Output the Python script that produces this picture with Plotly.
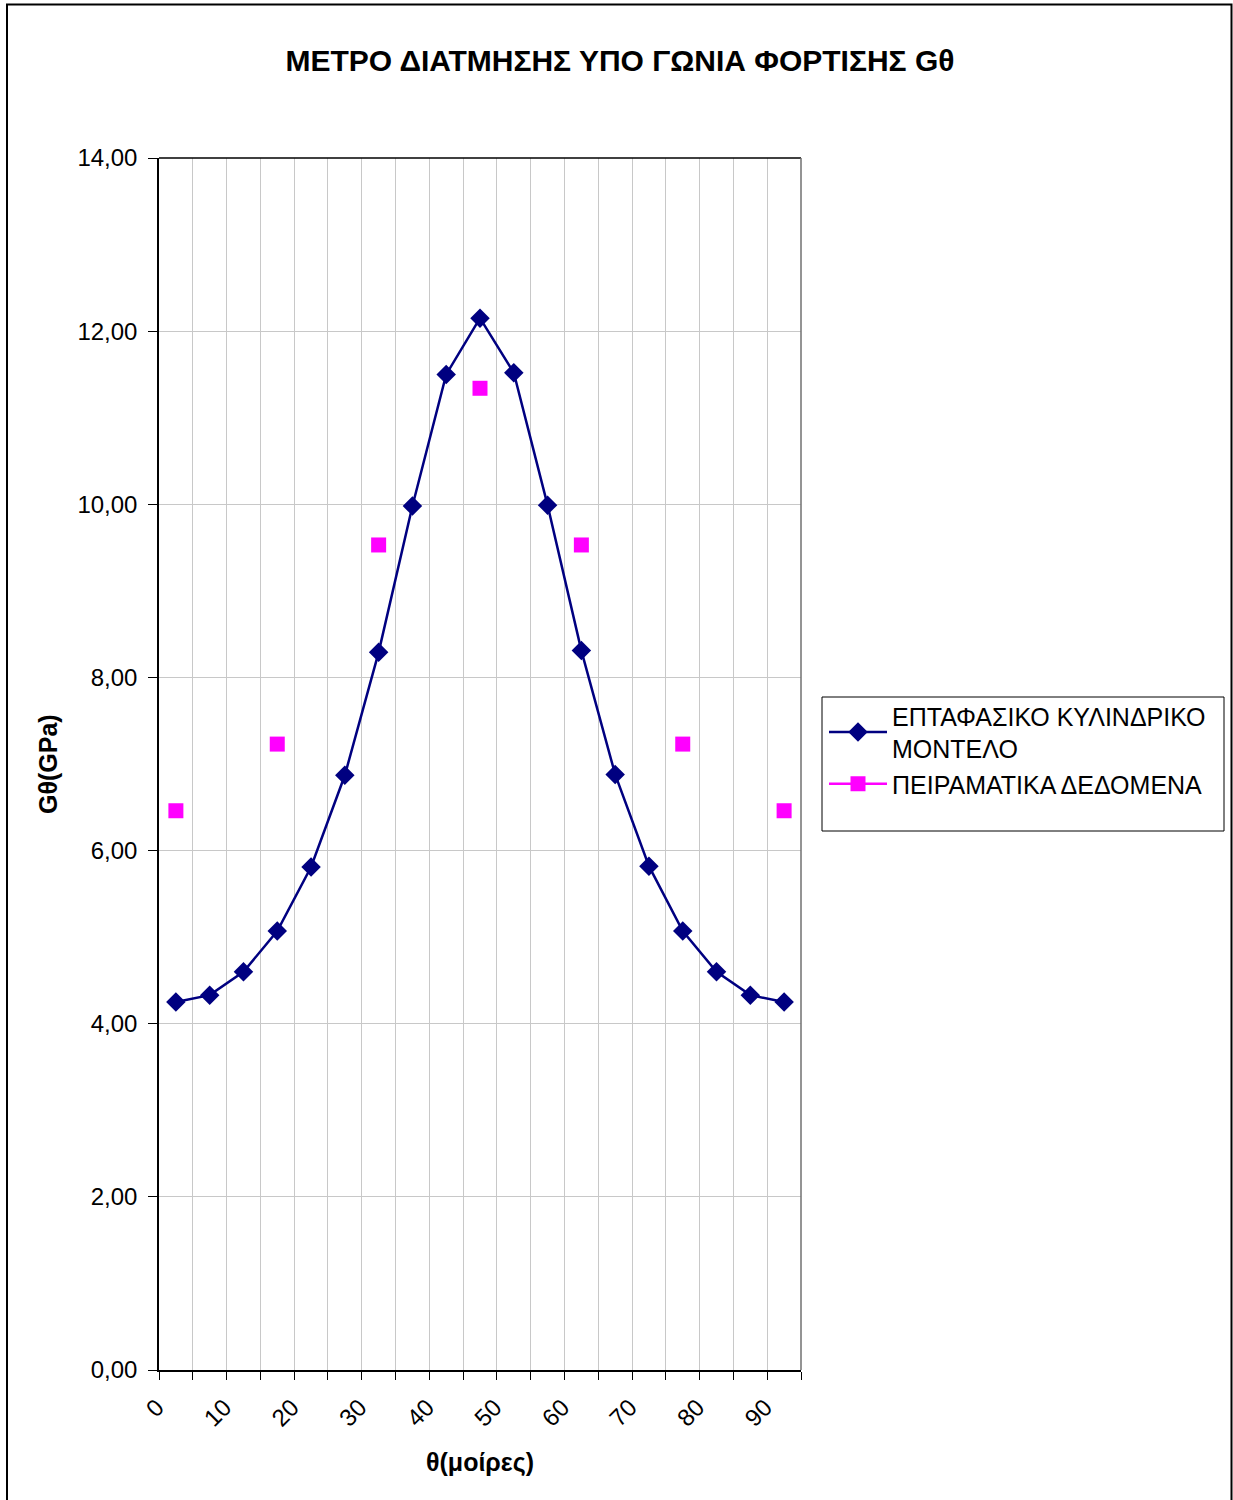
import plotly.graph_objects as go

# Loading angle θ (degrees) and shear modulus Gθ (GPa)
angles = [0, 5, 10, 15, 20, 25, 30, 35, 40, 45, 50, 55, 60, 65, 70, 75, 80, 85, 90]
model_G = [4.25, 4.33, 4.60, 5.07, 5.81, 6.87, 8.29, 9.98, 11.50, 12.15,
           11.52, 9.99, 8.31, 6.88, 5.82, 5.07, 4.60, 4.33, 4.25]
exp_G = [6.46, None, None, 7.23, None, None, 9.53, None, None, 11.34,
         None, None, 9.53, None, None, 7.23, None, None, 6.46]

x_tick_vals = [0, 10, 20, 30, 40, 50, 60, 70, 80, 90]
x_tick_text = ["0", "10", "20", "30", "40", "50", "60", "70", "80", "90"]

title_text = "ΜΕΤΡΟ ΔΙΑΤΜΗΣΗΣ ΥΠΟ ΓΩΝΙΑ ΦΟΡΤΙΣΗΣ Gθ"
x_title = "θ(μοίρες)"
y_title = "Gθ(GPa)"
series_names = ["ΕΠΤΑΦΑΣΙΚΟ ΚΥΛΙΝΔΡΙΚΟ<br>ΜΟΝΤΕΛΟ", "ΠΕΙΡΑΜΑΤΙΚΑ ΔΕΔΟΜΕΝΑ"]

FONT = "Liberation Sans, Arial, sans-serif"

fig = go.Figure()
fig.add_trace(go.Scatter(
    x=angles, y=model_G, name=series_names[0], mode="lines+markers",
    line=dict(color="#000080", width=2.5),
    marker=dict(symbol="diamond", size=15, color="#000080"),
))
fig.add_trace(go.Scatter(
    x=angles, y=exp_G, name=series_names[1], mode="lines+markers",
    connectgaps=False,
    line=dict(color="#FF00FF", width=2.5),
    marker=dict(symbol="square", size=15, color="#FF00FF"),
))

L, R, T, B = 159, 801, 158, 1370
W, H = 1233, 1500
pw, ph = R - L, B - T


def px(xp):
    return (xp - L) / pw


def py(yp):
    return (B - yp) / ph


fig.update_layout(
    width=W, height=H,
    margin=dict(l=L, r=W - R, t=T, b=H - B, pad=0),
    paper_bgcolor="white", plot_bgcolor="white",
    separators=", ",
    font=dict(family=FONT, size=24, color="black"),
    title=dict(text="<b>" + title_text + "</b>", x=620 / W, xanchor="center",
               y=1 - 60 / H, yanchor="middle",
               font=dict(family=FONT, size=30, color="black")),
    showlegend=True,
    legend=dict(x=px(824), y=py(693), xanchor="left", yanchor="top",
                borderwidth=0, bgcolor="rgba(0,0,0,0)",
                font=dict(family=FONT, size=25, color="black"),
                itemwidth=58, tracegroupgap=0, traceorder="normal"),
    xaxis=dict(
        range=[-2.5, 92.5], tickmode="array", tickvals=x_tick_vals,
        ticktext=x_tick_text, tickangle=-45, ticks="", showgrid=False,
        ticklabelshift=-19, ticklabelstandoff=12,
        tickfont=dict(family=FONT, size=24, color="black"),
        showline=True, linecolor="black", linewidth=1.5, mirror=False,
        zeroline=False,
        minor=dict(tick0=-2.5, dtick=5, showgrid=True, gridcolor="#C8C8C8",
                   gridwidth=1, ticks="outside", ticklen=8, tickcolor="black",
                   tickwidth=1),
    ),
    yaxis=dict(
        range=[0, 14], dtick=2, tickformat=".2f", ticks="outside", ticklen=9,
        tickcolor="black", showgrid=True, gridcolor="#C8C8C8", gridwidth=1,
        ticklabelstandoff=6,
        showline=True, linecolor="black", linewidth=1.5, zeroline=False,
        tickfont=dict(family=FONT, size=24, color="black"),
    ),
    annotations=[
        dict(text="<b>" + x_title + "</b>", xref="paper", yref="paper",
             x=px(480), y=py(1462), xanchor="center", yanchor="middle",
             showarrow=False, font=dict(family=FONT, size=25, color="black")),
        dict(text="<b>" + y_title + "</b>", xref="paper", yref="paper",
             x=px(48), y=py(764), xanchor="center", yanchor="middle",
             textangle=-90, showarrow=False,
             font=dict(family=FONT, size=25, color="black")),
    ],
    shapes=[
        # plot area top and right borders
        dict(type="line", xref="paper", yref="paper", x0=0, x1=1, y0=1, y1=1,
             line=dict(color="black", width=1.5)),
        dict(type="line", xref="paper", yref="paper", x0=1, x1=1, y0=0, y1=1,
             line=dict(color="#707070", width=1.5)),
        # legend box
        dict(type="rect", xref="paper", yref="paper",
             x0=px(822), x1=px(1224), y0=py(831), y1=py(697),
             line=dict(color="black", width=1), fillcolor="rgba(0,0,0,0)"),
        # chart outer frame
        dict(type="rect", xref="paper", yref="paper",
             x0=px(7), x1=px(1231.5), y0=py(1503), y1=py(4.5),
             line=dict(color="black", width=2), fillcolor="rgba(0,0,0,0)",
             layer="below"),
    ],
)

fig.write_html("out.html")
